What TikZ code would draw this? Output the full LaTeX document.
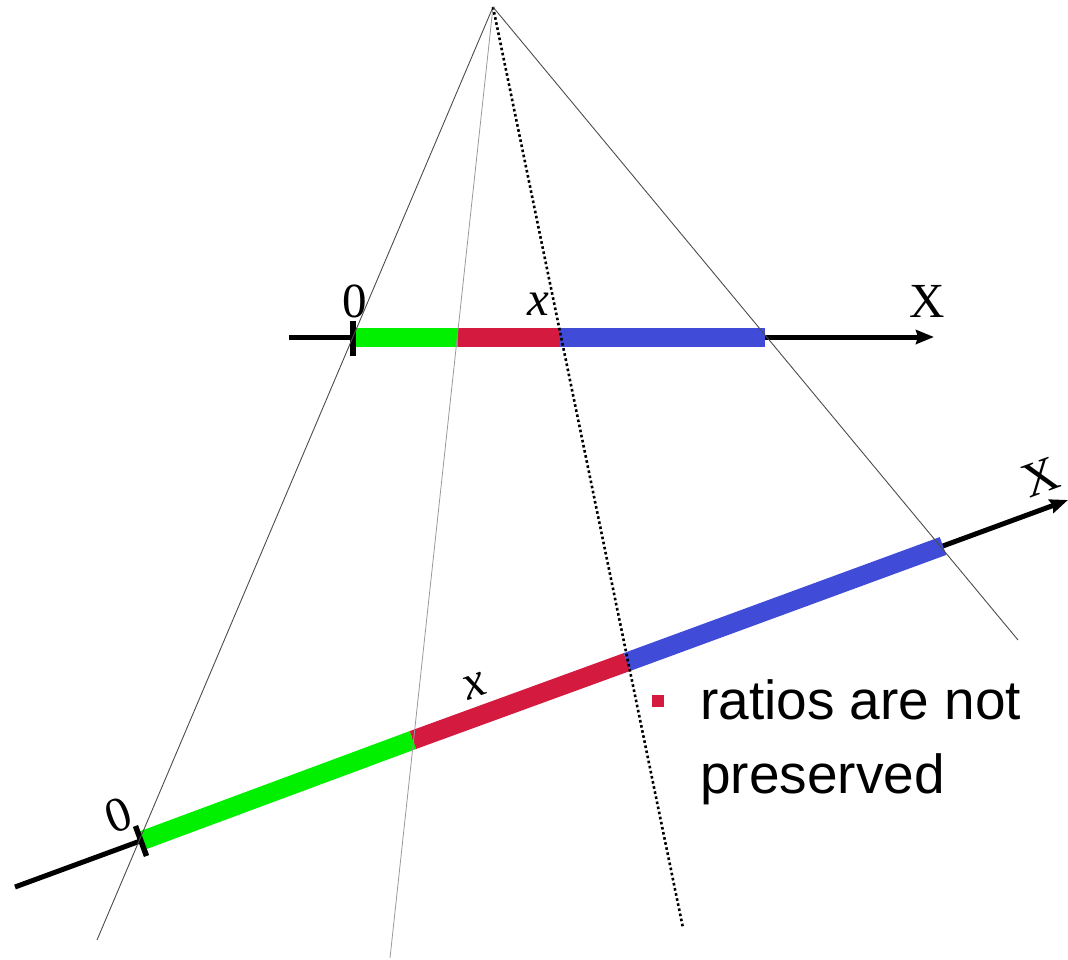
\documentclass[tikz,border=0pt]{standalone}
\usepackage{fontspec}
\setmainfont{Liberation Serif}
\newfontfamily\sansf{Liberation Sans}
\usetikzlibrary{arrows.meta,calc}
\definecolor{barGreen}{RGB}{0,240,0}
\definecolor{barRed}{RGB}{212,26,62}
\definecolor{barBlue}{RGB}{64,76,216}
\tikzset{
  ray/.style={line width=0.9pt, draw=black!70},
  raylight/.style={line width=0.8pt, draw=black!40},
  raydot/.style={line width=2.6pt, line cap=butt, dash pattern=on 2.6pt off 2.6pt},
  axis/.style={line width=5pt, -{Stealth[length=18pt,width=14pt,inset=2pt]}},
  bar/.style={line width=19pt, line cap=butt},
  tickmark/.style={line width=5.5pt},
  lbl/.style={font=\fontsize{49}{49}\selectfont, inner sep=0pt, anchor=base},
  bullettext/.style={font=\sansf\fontsize{55}{60}\selectfont, inner sep=0pt, anchor=base west}
}
\begin{document}
\begin{tikzpicture}[x=1pt,y=-1pt]
\useasboundingbox (0,0) rectangle (1068,960);
% key points
\coordinate (apex) at (493,7);
\coordinate (r1end) at (97,940);
\coordinate (r2end) at (390,958);
\coordinate (r3end) at (683,928);
\coordinate (r4end) at (1018,640);
% top axis
\coordinate (tL) at (289,337);
\coordinate (t0) at (353,337);
\coordinate (t1) at (458,337);
\coordinate (t2) at (560,337);
\coordinate (t3) at (765,337);
\coordinate (tR) at (934,337);
% bottom axis
\coordinate (bL) at (15,887);
\coordinate (b0) at (141,841);
\coordinate (b1) at (413,740);
\coordinate (b2) at (627,662);
\coordinate (b3) at (943,546);
\coordinate (bR) at (1068,500);
% axes
\draw[axis] (tL) -- (tR);
\draw[axis] (bL) -- (bR);
% bars
\draw[bar, barGreen] (t0) -- (t1);
\draw[bar, barRed] (t1) -- (t2);
\draw[bar, barBlue] (t2) -- (t3);
\draw[bar, barGreen] (b0) -- (b1);
\draw[bar, barRed] (b1) -- (b2);
\draw[bar, barBlue] (b2) -- (b3);
% ticks
\draw[tickmark] ($(t0)+(0,-16)$) -- ($(t0)+(0,19)$);
\draw[tickmark] ($(b0)!16pt!90:(bR)$) -- ($(b0)!16pt!-90:(bR)$);
% rays
\draw[ray] (apex) -- (r1end);
\draw[raylight] (apex) -- (r2end);
\draw[raydot] (apex) -- (r3end);
\draw[ray] (apex) -- (r4end);
% labels top
\node[lbl] (zeroTop) at (355,317) {0};
\node[lbl] (xTop) at (538,315) {\textit{x}};
\node[lbl] (XTop) at (927,317) {X};
% labels bottom
\node[lbl, anchor=center, rotate=20.2] (zeroBot) at (118,815) {0};
\node[lbl, anchor=center, rotate=20.2] (xBot) at (475,686) {\textit{x}};
\node[lbl, anchor=center, rotate=20.2] (XBot) at (1041,477) {X};
% bullet
\node[fill=barRed, minimum size=12pt, inner sep=0pt] (bullet) at (658,701) {};
\node[bullettext] (line1) at (700,719) {ratios are not};
\node[bullettext] (line2) at (700,793) {preserved};
\end{tikzpicture}
\end{document}
